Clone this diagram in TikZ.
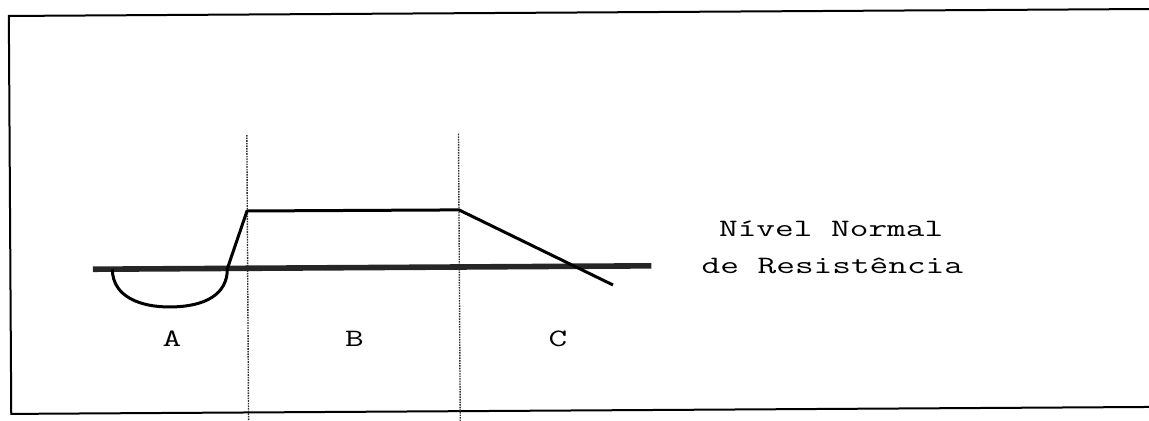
\documentclass[tikz,border=0pt]{standalone}
\usepackage{fontspec}
\setmonofont{Latin Modern Mono}
\newcommand{\wide}[1]{\scalebox{1.45}[1]{#1}}
\begin{document}
\begin{tikzpicture}[x=0.5pt,y=-0.5pt,
  frame/.style={line width=1pt,black},
  guide/.style={line width=0.7pt,black!80,dash pattern=on 0.8pt off 0.5pt},
  level/.style={line width=2.8pt,black!85},
  curve/.style={line width=1.5pt,black,line join=round},
  lbl/.style={font=\ttfamily\fontsize{12.5}{15}\selectfont,inner sep=0pt,anchor=base}]
\useasboundingbox (0,0) rectangle (1149,420);
\clip (0,0) rectangle (1149,420);
\begin{scope}[rotate around={0.35:(574.5,210)}]
% frame (open to the right)
\coordinate (ftr) at (1170,12.5);
\coordinate (ftl) at (10,12.5);
\coordinate (fbl) at (10,410.5);
\coordinate (fbr) at (1170,410.5);
\draw[frame] (ftr) -- (ftl) -- (fbl) -- (fbr);
% dotted guides
\coordinate (g1t) at (247.3,133);
\coordinate (g1b) at (247.3,440);
\coordinate (g2t) at (459,133);
\coordinate (g2b) at (459,440);
\draw[guide] (g1t) -- (g1b);
\draw[guide] (g2t) -- (g2b);
% normal level line
\coordinate (nl) at (92.6,266.3);
\coordinate (nr) at (651,266.3);
\draw[level] (nl) -- (nr);
% response curve
\coordinate (c0) at (112,266.5);
\coordinate (cb) at (169.5,304.5);
\coordinate (c1) at (227,266.5);
\coordinate (c2) at (247,209);
\coordinate (c3) at (459,209.2);
\coordinate (c4) at (612.5,285.2);
\draw[curve] (c0) .. controls (112,294) and (140,304.5) .. (cb)
  .. controls (205,304.5) and (227,292) .. (c1) -- (c2) -- (c3) -- (c4);
% labels
\node[lbl] (la) at (171.2,344.5) {\wide{A}};
\node[lbl] (lb) at (353.5,345.5) {\wide{B}};
\node[lbl] (lc) at (557,346.5) {\wide{C}};
\node[lbl] (t1) at (831,237.6) {\wide{Nível Normal}};
\node[lbl] (t2) at (832,274.6) {\wide{de Resistência}};
\end{scope}
\end{tikzpicture}
\end{document}
